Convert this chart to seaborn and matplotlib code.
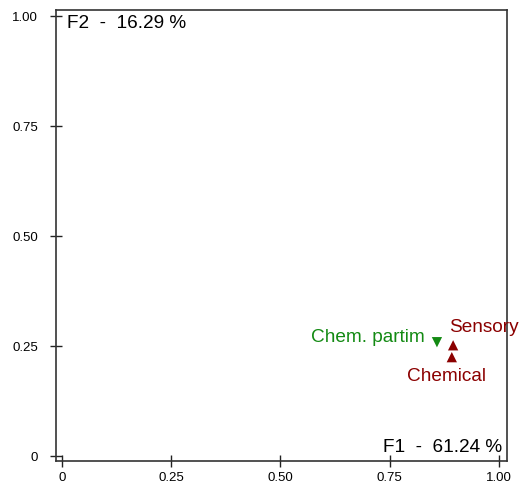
import matplotlib
matplotlib.use("Agg")
import matplotlib.pyplot as plt
import seaborn as sns
import pandas as pd

# point data
labels = ["Chem. partim", "Sensory", "Chemical"]
f1_vals = [0.858, 0.895, 0.892]
f2_vals = [0.259, 0.252, 0.225]
groups = ["partim", "full", "full"]

tick_vals = [0, 0.25, 0.50, 0.75, 1.00]
tick_labels = ["0", "0.25", "0.50", "0.75", "1.00"]

df = pd.DataFrame({"F1": f1_vals, "F2": f2_vals, "label": labels, "group": groups})

sns.set_style("white")
plt.rcParams["font.family"] = ["Liberation Sans", "DejaVu Sans"]
plt.rcParams["text.color"] = "black"

fig = plt.figure(figsize=(5.2, 4.87), dpi=100)
ax = fig.add_axes([0.1077, 0.0534, 0.8673, 0.9256])

green = "#138a13"
red = "#8b0000"
sns.scatterplot(data=df, x="F1", y="F2", hue="group", style="group",
                palette={"partim": green, "full": red},
                markers={"partim": "v", "full": "^"}, s=55,
                edgecolor="none", legend=False, ax=ax)

# labels next to points
ax.text(f1_vals[0] - 0.027, f2_vals[0] + 0.011, labels[0], color=green,
        fontsize=13.7, ha="right", va="center")
ax.text(f1_vals[1] - 0.009, f2_vals[1] + 0.041, labels[1], color=red,
        fontsize=13.7, ha="left", va="center", clip_on=False)
ax.text(f1_vals[2] - 0.011, f2_vals[2] - 0.045, labels[2], color=red,
        fontsize=13.7, ha="center", va="center")

ax.set_xlim(-0.0137, 1.0183)
ax.set_ylim(-0.011, 1.0136)
ax.set_xticks(tick_vals)
ax.set_xticklabels(tick_labels)
ax.set_yticks(tick_vals)
ax.set_yticklabels(tick_labels)
ax.tick_params(direction="inout", length=8, width=1, labelsize=9.5,
               bottom=True, left=True, colors="#222222", labelcolor="black")
ax.tick_params(axis="y", pad=9)
ax.tick_params(axis="x", pad=4)
ax.set_xlabel("")
ax.set_ylabel("")
for sp in ax.spines.values():
    sp.set_color("#333333")
    sp.set_linewidth(1.2)

ax.text(0.024, 0.989, "F2  -  16.29 %", transform=ax.transAxes,
        fontsize=13.7, ha="left", va="top", color="black")
ax.text(0.989, 0.02, "F1  -  61.24 %", transform=ax.transAxes,
        fontsize=13.7, ha="right", va="baseline", color="black")

fig.savefig("out.png", dpi=100)
